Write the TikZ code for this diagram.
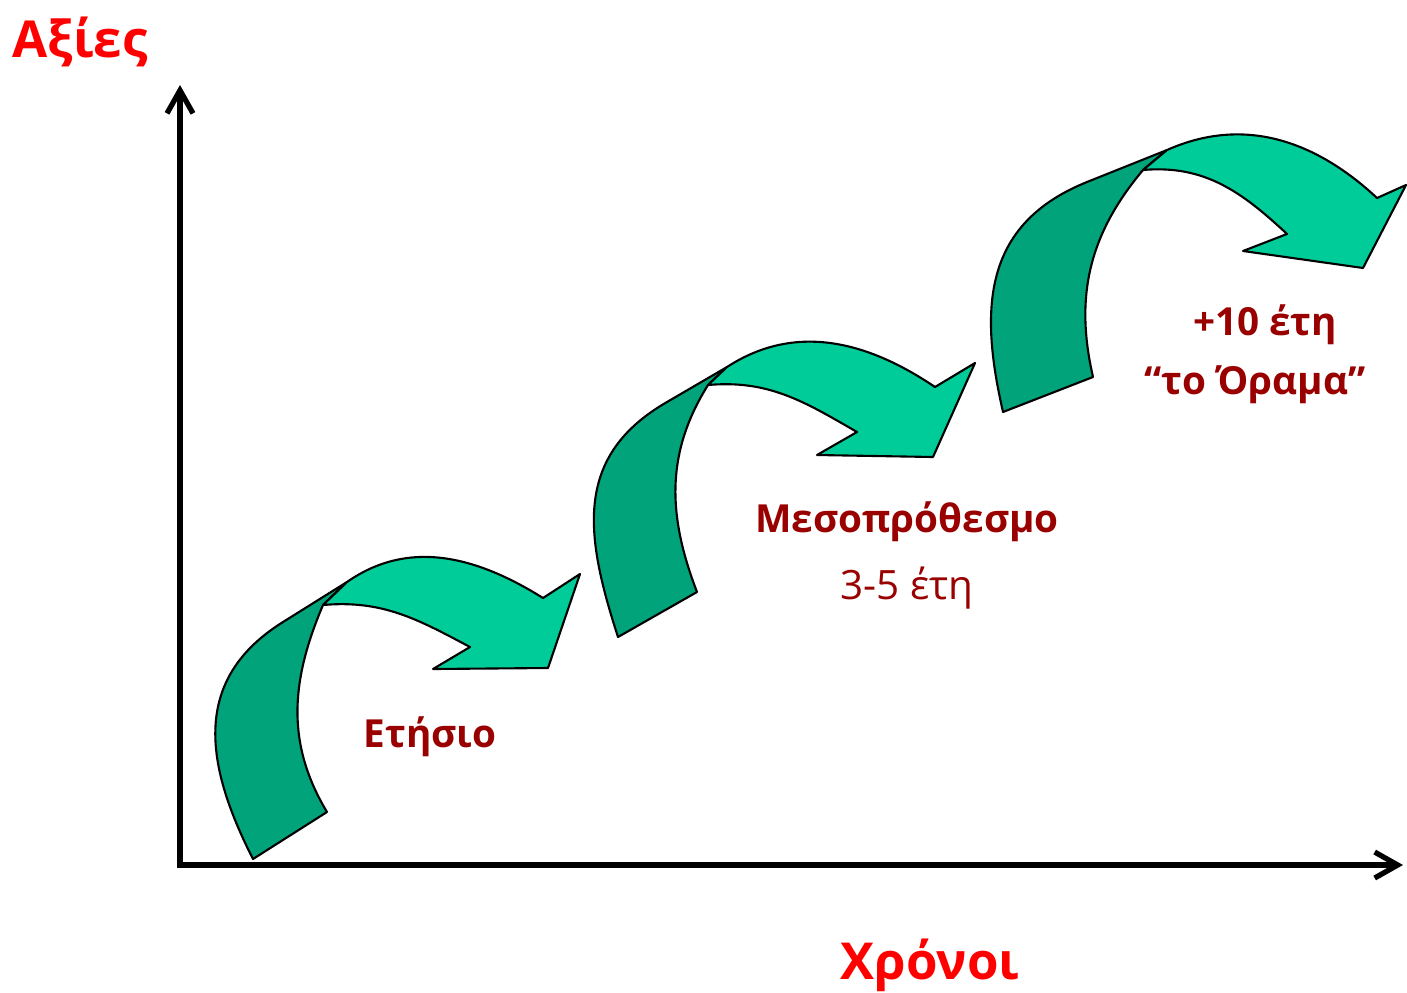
\documentclass[tikz,border=0pt]{standalone}
\usepackage{fontspec}
\setmainfont{Open Sans}
\usetikzlibrary{arrows.meta}
\definecolor{axred}{RGB}{255,0,0}
\definecolor{txtred}{RGB}{153,0,0}
\definecolor{headgreen}{RGB}{0,204,153}
\definecolor{tailgreen}{RGB}{0,163,122}
\tikzset{ax/.style={font=\fontsize{14.5}{16}\selectfont\bfseries, text=axred}}
\tikzset{lab/.style={font=\fontsize{11}{13}\selectfont\bfseries, text=txtred}}
\tikzset{labn/.style={font=\fontsize{11.5}{13}\selectfont, text=txtred}}
\tikzset{tailfill/.style={draw=black, fill=tailgreen, line width=0.6pt, line join=round}}
\tikzset{headfill/.style={draw=black, fill=headgreen, line width=0.6pt, line join=round}}

\begin{document}
\begin{tikzpicture}
  \useasboundingbox (0,0) rectangle (14.07,9.92);
  % axes
  \coordinate (O) at (1.80,1.27);
  \coordinate (Ytop) at (1.80,9.07);
  \coordinate (Xend) at (14.03,1.27);
  \draw[line width=1.5pt, {Straight Barb[length=2.3mm,width=2.6mm]}-{Straight Barb[length=2.3mm,width=2.6mm]}] (Ytop) -- (O) -- (Xend);
  \node[ax] (Axies) at (0.80,9.50) {Αξίες};
  \node[ax] (Xronoi) at (9.30,0.27) {Χρόνοι};

  % first step
  \filldraw[tailfill] (2.53,1.33) to[out=117,in=212,looseness=1.15] (2.83,3.70) -- (3.47,4.10) -- (3.23,3.87)
    to[out=247,in=121] (3.27,1.80) -- cycle;
  \filldraw[headfill] (3.23,3.87) -- (3.47,4.10) to[out=35,in=148] (5.43,3.94) -- (5.80,4.18)
    -- (5.48,3.24) -- (4.33,3.23) -- (4.70,3.45) to[out=152,in=5] cycle;
  \node[lab] (Etisio) at (4.30,2.55) {Ετήσιο};

  % second step
  \filldraw[tailfill] (6.18,3.55) to[out=108,in=210,looseness=1.15] (6.67,5.90) -- (7.27,6.25) -- (7.08,6.07)
    to[out=238,in=111] (6.97,4.00) -- cycle;
  \filldraw[headfill] (7.08,6.07) -- (7.27,6.25) to[out=33,in=146] (9.35,6.05) -- (9.75,6.29)
    -- (9.33,5.35) -- (8.17,5.37) -- (8.57,5.60) to[out=150,in=5] cycle;
  \node[lab] (Meso) at (9.07,4.70) {Μεσοπρόθεσμο};
  \node[labn] (Meso35) at (9.07,4.04) {3-5 έτη};

  % third step
  \filldraw[tailfill] (10.03,5.80) to[out=103,in=202,looseness=1.15] (10.87,8.10) -- (11.67,8.42) -- (11.43,8.22)
    to[out=230,in=103] (10.93,6.15) -- cycle;
  \filldraw[headfill] (11.43,8.22) -- (11.67,8.42) to[out=24,in=137] (13.77,7.94) -- (14.06,8.07)
    -- (13.63,7.24) -- (12.43,7.41) -- (12.87,7.58) to[out=137,in=5] cycle;
  \node[lab] (Deka) at (12.65,6.67) {+10 έτη};
  \node[lab] (Orama) at (12.55,6.07) {“το Όραμα”};
\end{tikzpicture}
\end{document}
